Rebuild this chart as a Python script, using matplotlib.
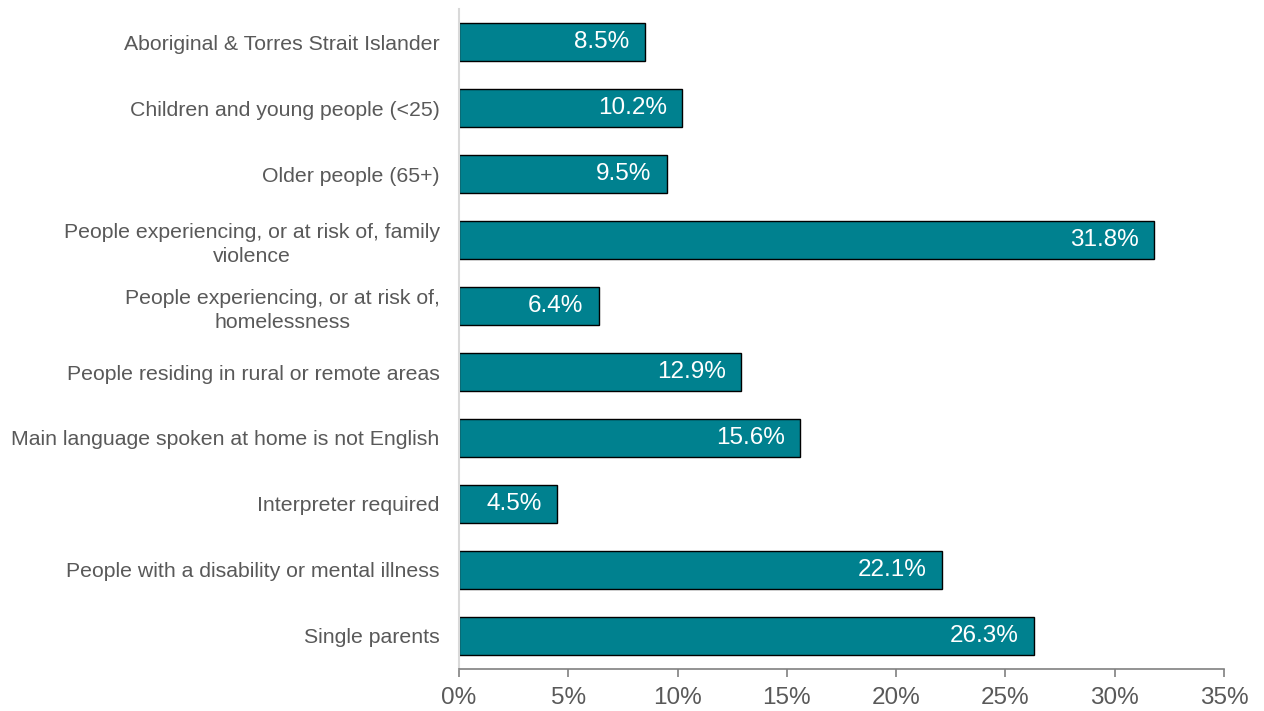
import matplotlib
matplotlib.use("Agg")
import matplotlib.pyplot as plt
from matplotlib.ticker import FuncFormatter, MultipleLocator

plt.rcParams['font.family'] = ['Liberation Sans', 'DejaVu Sans']

categories = [
    "Aboriginal & Torres Strait Islander",
    "Children and young people (<25)",
    "Older people (65+)",
    "People experiencing, or at risk of, family\nviolence",
    "People experiencing, or at risk of,\nhomelessness",
    "People residing in rural or remote areas",
    "Main language spoken at home is not English",
    "Interpreter required",
    "People with a disability or mental illness",
    "Single parents",
]
values = [8.5, 10.2, 9.5, 31.8, 6.4, 12.9, 15.6, 4.5, 22.1, 26.3]

BAR_COLOR = "#00818F"

fig = plt.figure(figsize=(12.64, 7.11), dpi=100)
ax = fig.add_axes([0.3631, 0.0591, 0.6053, 0.9282])

positions = list(range(len(categories)))
bars = ax.barh(positions, values, height=0.58, color=BAR_COLOR,
               edgecolor="black", linewidth=1.0)

for bar, v in zip(bars, values):
    ax.annotate(f"{v:.1f}%", xy=(bar.get_width(), bar.get_y() + bar.get_height() / 2),
                xytext=(-11, 0), textcoords="offset points",
                ha="right", va="center", color="white", fontsize=17.5)

ax.set_xlim(0, 35)
ax.set_ylim(len(categories) - 0.5, -0.5)
ax.set_yticks(positions)
ax.set_yticklabels(categories, fontsize=15.3, color="#595959",
                   multialignment="center", linespacing=1.3)
ax.tick_params(axis="y", length=0, pad=14)

ax.xaxis.set_major_locator(MultipleLocator(5))
ax.xaxis.set_major_formatter(FuncFormatter(lambda x, _: f"{x:.0f}%"))
ax.tick_params(axis="x", length=6, width=1.2, color="#808080", labelsize=17.5,
               labelcolor="#595959", pad=7)

for side in ("top", "right"):
    ax.spines[side].set_visible(False)
ax.spines["left"].set_color("#D9D9D9")
ax.spines["left"].set_linewidth(1.5)
ax.spines["bottom"].set_color("#808080")
ax.spines["bottom"].set_linewidth(1.2)

fig.savefig("out.png", dpi=100)
